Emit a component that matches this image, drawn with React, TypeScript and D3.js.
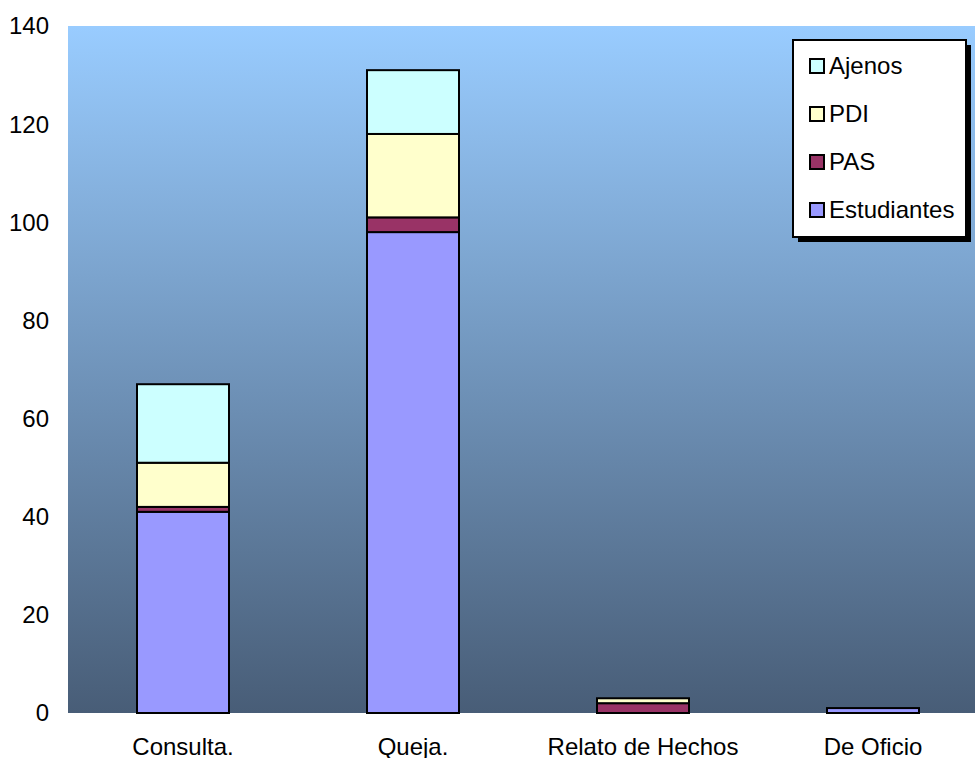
import React, { useEffect, useRef } from "react";
import * as d3 from "d3";

const categories = ["Consulta.", "Queja.", "Relato de Hechos", "De Oficio"];
const estudiantes = [41, 98, 0, 1];
const pas = [1, 3, 2, 0];
const pdi = [9, 17, 1, 0];
const ajenos = [16, 13, 0, 0];
const seriesNames = ["Estudiantes", "PAS", "PDI", "Ajenos"];
const seriesColors = ["#9999FF", "#993366", "#FFFFCC", "#CCFFFF"];
const yTicks = [0, 20, 40, 60, 80, 100, 120, 140];

const settings = {
  width: 975,
  height: 758,
  margin: { top: 26, right: -13, bottom: 45, left: 68 },
};

export default function App() {
  const svgRef = useRef(null);
  useEffect(() => {
    const svg = d3.select(svgRef.current);
    svg.selectAll("*").remove();
    const { width, height, margin } = settings;

    const rows = categories.map((c, i) => ({
      cat: c,
      Estudiantes: estudiantes[i],
      PAS: pas[i],
      PDI: pdi[i],
      Ajenos: ajenos[i],
    }));
    const stacked = d3.stack<any>().keys(seriesNames)(rows);

    const x = d3
      .scaleBand()
      .domain(categories)
      .range([margin.left, width - margin.right])
      .paddingInner(0.6)
      .paddingOuter(0.3);

    const y = d3
      .scaleLinear()
      .domain([0, 140])
      .range([height - margin.bottom, margin.top]);

    const defs = svg.append("defs");
    const grad = defs
      .append("linearGradient")
      .attr("id", "bg")
      .attr("x1", 0)
      .attr("y1", 0)
      .attr("x2", 0)
      .attr("y2", 1);
    grad.append("stop").attr("offset", "0%").attr("stop-color", "#99CCFF");
    grad.append("stop").attr("offset", "100%").attr("stop-color", "#485D77");

    svg
      .append("rect")
      .attr("x", margin.left)
      .attr("y", margin.top)
      .attr("width", width - margin.right - margin.left)
      .attr("height", height - margin.bottom - margin.top)
      .attr("fill", "url(#bg)");

    svg
      .append("g")
      .selectAll("g")
      .data(stacked)
      .join("g")
      .attr("fill", (d, i) => seriesColors[i])
      .selectAll("rect")
      .data((d) => d.filter((p) => p[1] - p[0] > 0))
      .join("rect")
      .attr("x", (d: any) => x(d.data.cat) || 0)
      .attr("y", (d) => y(d[1]))
      .attr("height", (d) => y(d[0]) - y(d[1]))
      .attr("width", x.bandwidth())
      .attr("stroke", "#000")
      .attr("stroke-width", 2);

    const font = "Arial, 'Liberation Sans', sans-serif";

    svg
      .append("g")
      .selectAll("text")
      .data(yTicks)
      .join("text")
      .attr("x", 49)
      .attr("y", (d) => y(d))
      .attr("dy", "0.35em")
      .attr("text-anchor", "end")
      .attr("font-family", font)
      .attr("font-size", 24)
      .text((d) => d);

    svg
      .append("g")
      .selectAll("text")
      .data(categories)
      .join("text")
      .attr("x", (d) => (x(d) || 0) + x.bandwidth() / 2)
      .attr("y", 747)
      .attr("dy", "0.35em")
      .attr("text-anchor", "middle")
      .attr("font-family", font)
      .attr("font-size", 24)
      .text((d) => d);

    // legend
    const lx = 793,
      ly = 40,
      lw = 173,
      lh = 197;
    const lg = svg.append("g");
    lg.append("rect")
      .attr("x", lx + 5)
      .attr("y", ly + 5)
      .attr("width", lw)
      .attr("height", lh)
      .attr("fill", "#000");
    lg.append("rect")
      .attr("x", lx)
      .attr("y", ly)
      .attr("width", lw)
      .attr("height", lh)
      .attr("fill", "#fff")
      .attr("stroke", "#000")
      .attr("stroke-width", 2);
    const legendOrder = [3, 2, 1, 0];
    legendOrder.forEach((si, k) => {
      const cy = 66 + k * 48;
      lg.append("rect")
        .attr("x", 810)
        .attr("y", cy - 7)
        .attr("width", 14)
        .attr("height", 14)
        .attr("fill", seriesColors[si])
        .attr("stroke", "#000")
        .attr("stroke-width", 2);
      lg.append("text")
        .attr("x", 829)
        .attr("y", cy)
        .attr("dy", "0.35em")
        .attr("font-family", font)
        .attr("font-size", 24)
        .text(seriesNames[si]);
    });
  }, []);

  return (
    <svg
      style={{ position: "absolute", left: 0, top: 0, height: settings.height, width: settings.width }}
      ref={svgRef}
    ></svg>
  );
}
